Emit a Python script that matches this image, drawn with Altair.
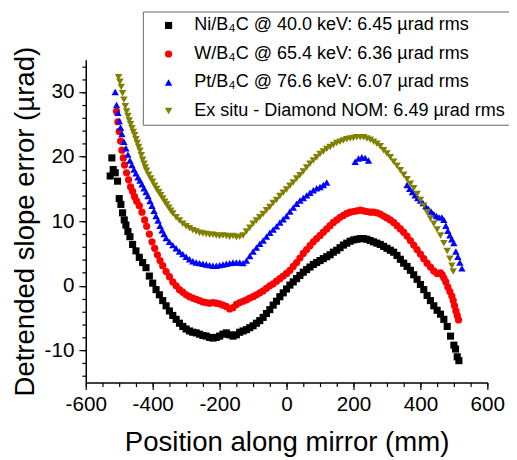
import altair as alt
import pandas as pd

FONT = "Liberation Sans"

series_names = [
    "Ni/B₄C @ 40.0 keV: 6.45 µrad rms",
    "W/B₄C @ 65.4 keV: 6.36 µrad rms",
    "Pt/B₄C @ 76.6 keV: 6.07 µrad rms",
    "Ex situ - Diamond NOM: 6.49 µrad rms",
]
series_colors = ["#000000", "#ff0000", "#0000ff", "#808000"]
series_shapes = ["square", "circle", "triangle-up", "triangle-down"]
series_sizes = [52, 58, 85, 85]

ni_x = [-527, -522, -518, -512, -505, -500, -495, -490, -485, -480, -474, -468, -460, -450, -440, -430,
        -420, -410, -400, -390, -380, -370, -360, -350, -340, -330, -320, -310, -300, -290, -280, -270,
        -260, -250, -240, -230, -220, -210, -200, -190, -180, -170, -160, -150, -140, -130, -120, -110,
        -100, -90, -80, -70, -60, -50, -40, -30, -20, -10, 0, 10, 20, 30, 40, 50, 60, 70, 80, 90, 100,
        110, 120, 130, 140, 150, 160, 170, 180, 190, 200, 210, 220, 230, 240, 250, 260, 270, 280, 290,
        300, 310, 320, 330, 340, 350, 360, 370, 380, 390, 400, 410, 420, 430, 440, 450, 460, 470, 480,
        490, 500, 505, 510, 515]
ni_y = [17.0, 19.8, 18.0, 17.5, 16.2, 13.5, 12.6, 11.3, 10.2, 9.4, 8.4, 7.6, 6.4, 5.4, 4.4, 3.6,
        2.8, 1.5, 0.4, -0.6, -1.4, -2.3, -3.1, -3.9, -4.6, -5.2, -5.8, -6.3, -6.7, -7.0, -7.2, -7.3,
        -7.5, -7.7, -7.8, -8.0, -8.1, -8.0, -7.8, -7.5, -7.3, -7.6, -7.8, -7.6, -7.2, -7.0, -6.8, -6.5,
        -6.2, -5.8, -5.4, -4.9, -4.3, -3.7, -3.0, -2.4, -1.7, -1.1, -0.5, 0.1, 0.6, 1.1, 1.6, 2.1, 2.5,
        2.9, 3.3, 3.6, 3.9, 4.2, 4.5, 4.8, 5.2, 5.5, 5.9, 6.3, 6.6, 6.9, 7.1, 7.2, 7.3, 7.3, 7.2, 7.0,
        6.8, 6.6, 6.4, 6.1, 5.8, 5.5, 5.2, 4.7, 4.1, 3.5, 3.0, 2.4, 1.7, 1.0, 0.2, -0.6, -1.5, -2.3,
        -3.1, -3.8, -4.4, -5.2, -6.3, -7.8, -9.2, -9.8, -11.0, -11.6]

w_x = [-508, -504, -500, -496, -492, -488, -484, -478, -472, -466, -460, -454, -448, -440, -432, -424,
       -418, -410, -402, -394, -386, -378, -370, -360, -350, -340, -330, -320, -310, -300, -290, -280,
       -270, -260, -250, -240, -230, -220, -210, -200, -190, -180, -170, -160, -150, -140, -130, -120,
       -110, -100, -90, -80, -70, -60, -50, -40, -30, -20, -10, 0, 10, 20, 30, 40, 50, 60, 70, 80, 90,
       100, 110, 120, 130, 140, 150, 160, 170, 180, 190, 200, 210, 220, 230, 240, 250, 260, 270, 280,
       290, 300, 310, 320, 330, 340, 350, 360, 370, 380, 390, 400, 410, 420, 430, 440, 450, 460, 465,
       470, 476, 482, 488, 494, 498, 502, 506, 510, 514]
w_y = [27.0, 25.4, 23.9, 22.4, 21.0, 19.8, 18.7, 17.5, 16.4, 15.3, 14.6, 13.8, 13.1, 12.4, 11.4, 10.2,
       9.2, 8.0, 6.8, 5.8, 4.8, 3.9, 3.1, 2.2, 1.4, 0.6, 0.0, -0.6, -1.0, -1.4, -1.7, -1.9,
       -2.1, -2.3, -2.5, -2.6, -2.7, -2.6, -2.7, -2.8, -3.0, -3.2, -3.6, -3.4, -2.9, -2.6, -2.4, -2.2,
       -1.9, -1.7, -1.4, -1.1, -0.8, -0.4, 0.0, 0.3, 0.7, 1.1, 1.5, 1.9, 2.4, 3.0, 3.6, 4.3, 5.0, 5.6,
       6.2, 6.8, 7.3, 7.8, 8.3, 8.8, 9.3, 9.8, 10.2, 10.6, 10.9, 11.2, 11.4, 11.5, 11.6, 11.7, 11.6,
       11.5, 11.4, 11.4, 11.3, 11.1, 10.8, 10.5, 10.2, 9.8, 9.3, 8.8, 8.3, 7.7, 7.0, 6.3, 5.6, 4.9, 4.2,
       3.5, 2.9, 2.3, 1.9, 2.0, 1.7, 1.2, 0.6, -0.2, -0.9, -1.6, -2.3, -3.1, -3.9, -4.6, -5.3]

pt_x = [-512, -508, -504, -500, -496, -492, -486, -480, -474, -468, -462, -456, -450, -444, -438, -432,
        -426, -420, -414, -408, -402, -396, -390, -384, -378, -372, -366, -360, -350, -340, -330, -320,
        -310, -300, -290, -280, -270, -260, -250, -240, -230, -220, -210, -200, -190, -180, -170, -160,
        -150, -140, -130, -120, -110, -100, -90, -80, -70, -60, -50, -40, -30, -20, -10, 0, 10, 20, 30,
        40, 50, 60, 70, 80, 90, 100, 110, 120,
        205, 215, 225, 235, 245,
        360, 368, 376, 384, 392, 400, 408, 416, 424, 432, 440, 448, 456, 464, 470, 476, 482, 488, 494,
        500, 506, 512, 518, 524]
pt_y = [30.0, 28.0, 26.8, 25.5, 24.5, 23.5, 22.3, 21.3, 20.3, 19.4, 18.7, 18.0, 17.4, 16.8, 16.3, 15.7,
        15.1, 14.5, 13.9, 13.1, 12.4, 11.6, 10.8, 10.1, 9.3, 8.6, 8.0, 7.4, 6.8, 6.3, 5.8, 5.3,
        4.9, 4.5, 4.1, 3.8, 3.6, 3.5, 3.4, 3.3, 3.2, 3.1, 3.1, 3.2, 3.3, 3.4, 3.5, 3.6,
        3.6, 3.6, 3.5, 3.9, 4.6, 5.3, 5.9, 6.5, 7.0, 7.6, 8.2, 8.7, 9.2, 9.8, 10.3, 10.8, 11.5, 12.1, 12.7,
        13.2, 13.6, 14.0, 14.4, 14.8, 15.1, 15.3, 15.6, 16.0,
        19.2, 19.7, 19.9, 19.8, 19.4,
        15.6, 15.0, 14.5, 14.0, 13.6, 13.2, 12.8, 12.3, 11.9, 11.5, 11.1, 10.8, 10.6, 10.6, 10.2, 9.3,
        8.5, 7.8, 7.2, 6.6, 5.3, 4.5, 3.6, 2.7]

ex_x = [-502, -498, -494, -490, -486, -482, -478, -474, -470, -466, -462, -458, -454, -450, -446, -442,
        -438, -434, -430, -426, -422, -418, -412, -406, -400, -394, -388, -382, -376, -370, -364, -358,
        -352, -346, -340, -330, -320, -310, -300, -290, -280, -270, -260, -250, -240, -230, -220, -210,
        -200, -190, -180, -170, -160, -150, -140, -130, -120, -110, -100, -90, -80, -70, -60, -50, -40,
        -30, -20, -10, 0, 10, 20, 30, 40, 50, 60, 70, 80, 90, 100, 110, 120, 130, 140, 150, 160, 170,
        180, 190, 200, 210, 220, 230, 240, 250, 260, 270, 280, 290, 300, 310, 320, 330, 340, 350, 360,
        370, 380, 390, 400, 410, 420, 430, 440, 450, 460, 470, 480, 488, 494, 498]
ex_y = [32.3, 31.6, 30.8, 29.8, 28.8, 27.8, 27.0, 26.3, 25.6, 25.0, 24.4, 23.8, 23.3, 22.7, 22.1, 21.5,
        20.9, 20.2, 19.5, 18.9, 18.3, 17.8, 17.2, 16.6, 16.1, 15.5, 15.0, 14.5, 14.0, 13.5, 13.0, 12.6,
        12.1, 11.6, 11.2, 10.6, 10.1, 9.6, 9.2, 8.9, 8.6, 8.4, 8.2, 8.1, 8.0, 7.9, 7.9, 7.8,
        7.7, 7.8, 7.7, 7.6, 7.7, 7.5, 7.6, 7.8, 8.4, 9.0, 9.6, 10.1, 10.6, 11.1, 11.7, 12.2, 12.8,
        13.3, 13.9, 14.4, 14.9, 15.5, 16.0, 16.6, 17.1, 17.7, 18.3, 18.9, 19.4, 19.9, 20.4, 20.8, 21.2,
        21.5, 21.8, 22.1, 22.3, 22.5, 22.7, 22.8, 22.9, 23.0, 23.0, 23.0, 22.8, 22.6, 22.3, 22.0, 21.6,
        21.0, 20.5, 19.9, 19.2, 18.6, 17.9, 17.2, 16.5, 15.8, 15.1, 14.2, 13.3, 12.4, 11.4, 10.4, 9.6,
        8.7, 7.8, 6.6, 5.4, 4.2, 3.1, 2.2]

x_major_ticks = [-600, -400, -200, 0, 200, 400, 600]
x_minor_ticks = list(range(-600, 601, 50))
y_major_ticks = [-10, 0, 10, 20, 30]
y_minor_ticks = list(range(-14, 35, 2))

rows = []
for name, xs, ys in zip(series_names, [ni_x, w_x, pt_x, ex_x], [ni_y, w_y, pt_y, ex_y]):
    for xv, yv in zip(xs, ys):
        rows.append({"series": name, "pos": xv, "slope": yv})
df = pd.DataFrame(rows)

xscale = alt.Scale(domain=[-600, 600], nice=False, zero=False)
yscale = alt.Scale(domain=[-15, 35], nice=False, zero=False)

hyphen_label = "datum.value < 0 ? '-' + abs(datum.value) : '' + datum.value"

axis_common = dict(grid=False, domainColor="black", domainWidth=1.5, tickColor="black",
                   tickWidth=1.2, labelColor="black", labelFont=FONT, titleFont=FONT,
                   titleColor="black", titleFontWeight="normal", labelExpr=hyphen_label)

x_axis_major = alt.Axis(values=x_major_ticks, tickSize=7, labelFontSize=21, labelPadding=4,
                        labelFlush=False, title="Position along mirror (mm)", titleFontSize=28,
                        titlePadding=15, orient="bottom", **axis_common)
y_axis_major = alt.Axis(values=y_major_ticks, tickSize=7, labelFontSize=21, labelPadding=5,
                        title="Detrended slope error (µrad)", titleFontSize=28, titlePadding=5,
                        orient="left", **axis_common)
x_axis_minor = alt.Axis(values=x_minor_ticks, tickSize=4, labels=False, domain=False, title=None,
                        grid=False, tickColor="black", tickWidth=1.2, orient="bottom")
y_axis_minor = alt.Axis(values=y_minor_ticks, tickSize=4, labels=False, domain=False, title=None,
                        grid=False, tickColor="black", tickWidth=1.2, orient="left")

points = alt.Chart(df).mark_point(filled=True, opacity=1, strokeWidth=0).encode(
    x=alt.X("pos:Q", scale=xscale, axis=x_axis_major),
    y=alt.Y("slope:Q", scale=yscale, axis=y_axis_major),
    color=alt.Color("series:N", scale=alt.Scale(domain=series_names, range=series_colors),
                    legend=alt.Legend(title=None, orient="none", legendX=58, legendY=-49,
                                      labelFont=FONT, labelFontSize=18.3, labelColor="black",
                                      labelLimit=600, symbolOffset=12, labelOffset=17,
                                      symbolSize=34, rowPadding=10, padding=5,
                                      strokeColor="#666666", fillColor="white",
                                      symbolStrokeWidth=0)),
    shape=alt.Shape("series:N", scale=alt.Scale(domain=series_names, range=series_shapes)),
    size=alt.Size("series:N", scale=alt.Scale(domain=series_names, range=series_sizes),
                  legend=None),
    order=alt.Order("idx:Q"),
).transform_calculate(idx="indexof(%s, datum.series)" % str(series_names))

minor = alt.Chart(df).mark_point(opacity=0, size=1).encode(
    x=alt.X("pos:Q", scale=xscale, axis=x_axis_minor),
    y=alt.Y("slope:Q", scale=yscale, axis=y_axis_minor),
)

chart = alt.layer(minor, points).resolve_axis(x="independent", y="independent").properties(
    width=408, height=328,
    autosize=alt.AutoSizeParams(type="none"),
    padding={"left": 79, "top": 49, "right": 22, "bottom": 73},
).configure_view(stroke=None)

chart.save("out.html", embed_options={"renderer": "svg", "actions": False})
